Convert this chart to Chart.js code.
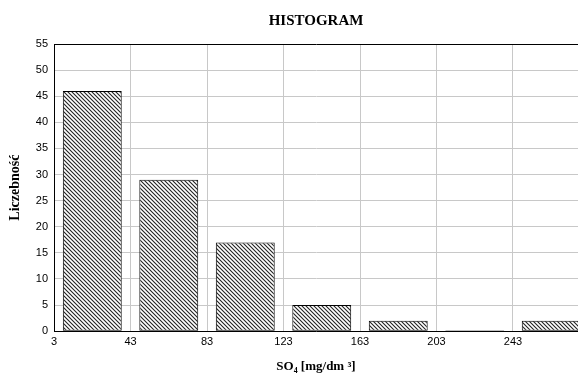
<!DOCTYPE html>
<html><head><meta charset="utf-8">
<script src="https://cdn.jsdelivr.net/npm/chart.js@4"></script>
<style>html,body{margin:0;padding:0;background:#fff;}canvas{display:block;}</style>
</head><body>
<canvas id="c" width="578" height="383"></canvas>
<script>
const binStarts = [3, 43, 83, 123, 163, 203, 243];
const binWidth = 40;
const counts = [46, 29, 17, 5, 2, 0, 2];
const xTicks = [3, 43, 83, 123, 163, 203, 243];
const yTicks = [0, 5, 10, 15, 20, 25, 30, 35, 40, 45, 50, 55];

function hatch() {
  const s = 4;
  const c = document.createElement('canvas');
  c.width = s; c.height = s;
  const g = c.getContext('2d');
  g.fillStyle = '#fff'; g.fillRect(0, 0, s, s);
  g.strokeStyle = '#222'; g.lineWidth = 1.1;
  g.beginPath();
  g.moveTo(-1, -1); g.lineTo(s + 1, s + 1);
  g.moveTo(-1, s - 1); g.lineTo(1, s + 1);
  g.moveTo(s - 1, -1); g.lineTo(s + 1, 1);
  g.stroke();
  return g.createPattern(c, 'repeat');
}

const data = binStarts.map((b, i) => ({ x: b + binWidth / 2, y: counts[i] }));

new Chart(document.getElementById('c'), {
  type: 'bar',
  data: { datasets: [{
    data: data,
    backgroundColor: hatch(),
    borderColor: '#000',
    borderWidth: 1,
    borderSkipped: false,
    minBarLength: 1,
    categoryPercentage: 1,
    barPercentage: 0.77
  }]},
  options: {
    responsive: false,
    animation: false,
    layout: { padding: { left: 7, right: 0, top: 0, bottom: 9 } },
    plugins: {
      legend: { display: false },
      tooltip: { enabled: false },
      title: {
        display: true, text: 'HISTOGRAM', fullSize: false,
        color: '#000', font: { family: 'Liberation Serif', size: 15, weight: 'bold' },
        padding: { top: 12, bottom: 14 }
      }
    },
    scales: {
      x: {
        type: 'linear', min: 3, max: 277, offset: false,
        afterBuildTicks: s => { s.ticks = xTicks.map(v => ({ value: v })); },
        ticks: { color: '#000', font: { family: 'Liberation Sans', size: 11 }, padding: 4, maxRotation: 0, autoSkip: false },
        grid: { color: '#c8c8c8', drawTicks: false, lineWidth: 1, offset: false },
        border: { color: '#000', width: 1 },
        title: { display: true, text: 'SO₄ [mg/dm ³]', color: '#000',
          font: { family: 'Liberation Serif', size: 13, weight: 'bold' }, padding: { top: 6, bottom: 0 } }
      },
      y: {
        min: 0, max: 55,
        afterBuildTicks: s => { s.ticks = yTicks.map(v => ({ value: v })); },
        ticks: { color: '#000', font: { family: 'Liberation Sans', size: 11 }, padding: 6 },
        grid: { color: ctx => (ctx.tick && ctx.tick.value === 55) ? '#000' : '#c8c8c8', drawTicks: false, lineWidth: 1 },
        border: { color: '#000', width: 1 },
        title: { display: true, text: 'Liczebność', color: '#000',
          font: { family: 'Liberation Serif', size: 14, weight: 'bold' }, padding: { top: 0, bottom: 6 } }
      }
    }
  }
});
</script>
</body></html>
